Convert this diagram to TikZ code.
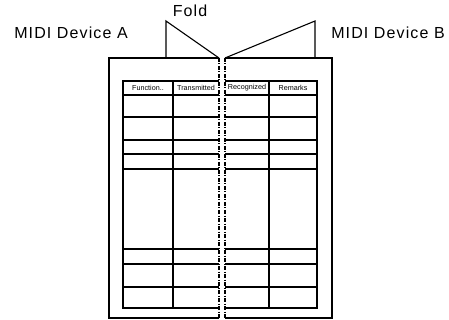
\documentclass[tikz,border=0pt]{standalone}
\usepackage{fontspec}
\setmainfont{Liberation Sans}
\newfontfamily\lblfont[LetterSpace=7]{Liberation Sans}
\begin{document}
\begin{tikzpicture}[x=1pt,y=-1pt,
  lbl/.style={font=\lblfont\fontsize{16}{18}\selectfont, inner sep=0pt},
  hdr/.style={font=\fontsize{7.2}{8}\selectfont, inner sep=0pt},
  page/.style={line width=1.2pt},
  foldline/.style={line width=1.1pt, dash pattern=on 4pt off 1.5pt on 1pt off 1.5pt},
  grid/.style={line width=1.1pt},
  flap/.style={line width=1.1pt, line join=miter}]
\useasboundingbox (0,0) rectangle (449,320);
% labels
\node[lbl] (devA) at (71,33) {MIDI Device A};
\node[lbl] (devB) at (388,33) {MIDI Device B};
\node[lbl] (fold) at (190,11) {Fold};
% flaps
\draw[flap] (166,58) -- (166,21) -- (219,58);
\draw[flap] (225,58) -- (315,21) -- (315,58);
% pages
\draw[page] (219,58) -- (109,58) -- (109,318) -- (219,318);
\draw[page] (225,58) -- (332,58) -- (332,318) -- (225,318);
% left table
\draw[grid] (219,81) -- (123,81) -- (123,308) -- (219,308);
\draw[grid] (173,81) -- (173,308);
\foreach \yy in {95,117,140,154,169,249,264,287} {
  \draw[grid] (123,\yy) -- (219,\yy);
  \draw[grid] (225,\yy) -- (317,\yy);
}
% right table
\draw[grid] (225,81) -- (317,81) -- (317,308) -- (225,308);
\draw[grid] (269,81) -- (269,308);
% fold lines
\draw[foldline] (219,58) -- (219,318);
\draw[foldline] (225,58) -- (225,318);
% headers
\node[hdr] (hfun) at (148,88) {Function..};
\node[hdr] (htra) at (196,88) {Transmitted};
\node[hdr] (hrec) at (247,88) {Recognized};
\node[hdr] (hrem) at (293,88) {Remarks};
\end{tikzpicture}
\end{document}
